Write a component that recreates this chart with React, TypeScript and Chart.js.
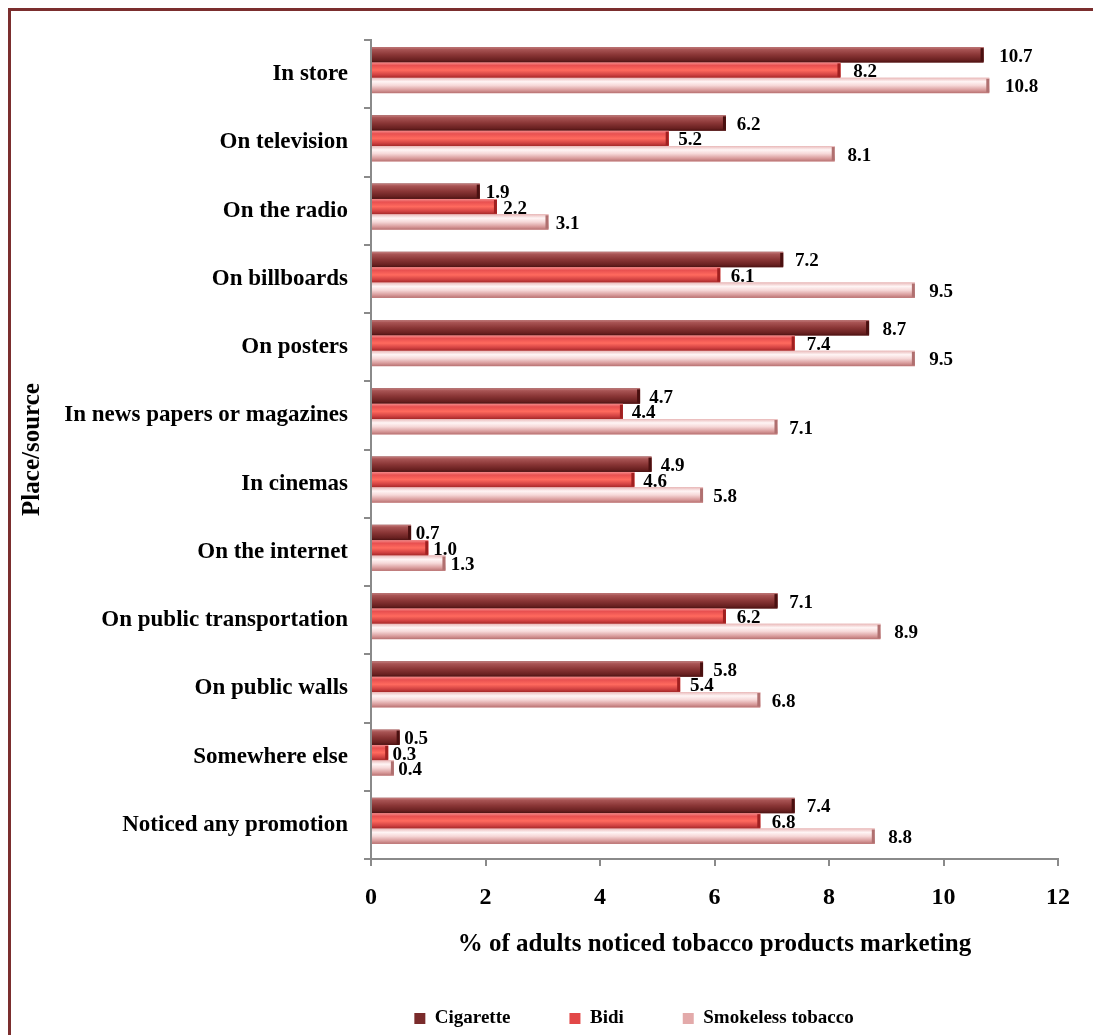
import React, { useEffect, useRef } from 'react';
import { Chart, registerables } from 'chart.js';

Chart.register(...registerables);

const categories = [
  'In store',
  'On television',
  'On the radio',
  'On billboards',
  'On posters',
  'In news papers or magazines',
  'In cinemas',
  'On the internet',
  'On public transportation',
  'On public walls',
  'Somewhere else',
  'Noticed any promotion',
];
const seriesNames = ['Cigarette', 'Bidi', 'Smokeless tobacco'];
const cigarette = [10.7, 6.2, 1.9, 7.2, 8.7, 4.7, 4.9, 0.7, 7.1, 5.8, 0.5, 7.4];
const bidi = [8.2, 5.2, 2.2, 6.1, 7.4, 4.4, 4.6, 1.0, 6.2, 5.4, 0.3, 6.8];
const smokeless = [10.8, 8.1, 3.1, 9.5, 9.5, 7.1, 5.8, 1.3, 8.9, 6.8, 0.4, 8.8];
const xMin = 0;
const xMax = 12;
const xStep = 2;
const xTitle = '% of adults noticed tobacco products marketing';
const yTitle = 'Place/source';

const FONT = "'Liberation Serif', 'Times New Roman', Times, serif";

const baseColors = ['#7a2b2b', '#e24848', '#e3aaaa'];
const capColors = ['#4a1010', '#a02020', '#b07070'];
const gradients: [number, string][][] = [
  [[0, '#c58080'], [0.15, '#a85454'], [0.5, '#8a3636'], [0.85, '#682020'], [1, '#4a1212']],
  [[0, '#f48a8a'], [0.2, '#e85050'], [0.5, '#ff6a5e'], [0.8, '#d24242'], [1, '#a42828']],
  [[0, '#e9b9b9'], [0.25, '#fff5f5'], [0.5, '#f6d8d8'], [0.8, '#d99c9c'], [1, '#b87272']],
];

export default function App() {
  const ref = useRef<HTMLCanvasElement>(null);

  useEffect(() => {
    const canvas = ref.current;
    if (!canvas) return;

    const bar3d = {
      id: 'bar3d',
      beforeDatasetsDraw(chart: any) {
        chart.ctx.save();
        chart.ctx.translate(0, -4);
      },
      afterDatasetsDraw(chart: any) {
        const ctx = chart.ctx as CanvasRenderingContext2D;
        chart.data.datasets.forEach((ds: any, di: number) => {
          const meta = chart.getDatasetMeta(di);
          meta.data.forEach((el: any) => {
            const { x, y, base, height } = el.getProps(['x', 'y', 'base', 'height'], true);
            const top = y - height / 2;
            const left = Math.min(x, base);
            const w = Math.abs(x - base);
            const g = ctx.createLinearGradient(0, top, 0, top + height);
            gradients[di].forEach(([o, c]) => g.addColorStop(o, c));
            ctx.fillStyle = g;
            ctx.fillRect(left, top, w, height);
            ctx.fillStyle = capColors[di];
            ctx.fillRect(Math.max(left, x - 3), top + 1, Math.min(3, w), height - 2);
          });
        });
        ctx.font = `bold 19px ${FONT}`;
        ctx.fillStyle = '#000';
        ctx.textAlign = 'left';
        ctx.textBaseline = 'middle';
        chart.data.datasets.forEach((ds: any, di: number) => {
          const meta = chart.getDatasetMeta(di);
          meta.data.forEach((el: any, i: number) => {
            const { x, y, base } = el.getProps(['x', 'y', 'base'], true);
            const v = ds.data[i] as number;
            const lx = x + 4 + 0.019 * (x - base);
            ctx.fillText(v.toFixed(1), lx, y + 2);
          });
        });
        ctx.restore();
      },
    };

    const yTickFont = { family: FONT, weight: 'bold' as const, size: 23 };
    const xTickFont = { family: FONT, weight: 'bold' as const, size: 24 };
    const titleFont = { family: FONT, weight: 'bold' as const, size: 25 };
    const axisGray = '#8a8a8a';

    const chart = new Chart(canvas, {
      type: 'bar',
      data: {
        labels: categories,
        datasets: [cigarette, bidi, smokeless].map((d, i) => ({
          label: seriesNames[i],
          data: d,
          backgroundColor: baseColors[i],
          borderWidth: 0,
          categoryPercentage: 0.674,
          barPercentage: 1.0,
        })),
      },
      options: {
        indexAxis: 'y',
        responsive: false,
        animation: false,
        devicePixelRatio: 1,
        layout: { padding: { left: 210, right: 35, top: 40, bottom: 0 } },
        scales: {
          x: {
            type: 'linear',
            min: xMin,
            max: xMax,
            ticks: { stepSize: xStep, font: xTickFont, color: '#000', padding: 17 },
            grid: { drawOnChartArea: false, drawTicks: true, tickLength: 7, color: axisGray, lineWidth: 2 },
            border: { display: true, color: axisGray, width: 2 },
            title: { display: true, text: xTitle, font: titleFont, color: '#000', padding: { top: 0, bottom: -10 } },
            afterFit: (s: any) => { s.height = 91; },
          },
          y: {
            type: 'category',
            ticks: { font: yTickFont, color: '#000', padding: 16, autoSkip: false },
            grid: { drawOnChartArea: false, drawTicks: true, tickLength: 7, color: axisGray, lineWidth: 2, offset: true },
            border: { display: true, color: axisGray, width: 2 },
            title: { display: true, text: yTitle, font: titleFont, color: '#000', padding: { top: -192, bottom: 0 } },
            afterFit: (s: any) => {
              s.width = 161;
              // let the long category labels extend into the layout padding
              s._computeLabelArea = () => null;
            },
          },
        },
        plugins: {
          legend: {
            display: true,
            position: 'bottom',
            labels: {
              boxWidth: 11,
              boxHeight: 11,
              padding: 59,
              color: '#000',
              font: { family: FONT, weight: 'bold', size: 19 },
            },
          },
          tooltip: { enabled: false },
        },
      },
      plugins: [bar3d],
    } as any);

    return () => chart.destroy();
  }, []);

  return (
    <div style={{ position: 'fixed', left: 0, top: 0, width: 1093, height: 1035, overflow: 'hidden', background: '#fff' }}>
      <canvas
        ref={ref}
        width={1093}
        height={1038}
        style={{ position: 'absolute', left: 0, top: 0, width: 1093, height: 1038 }}
      />
      <div
        style={{
          position: 'absolute',
          left: 8,
          top: 8,
          width: 1200,
          height: 1200,
          borderTop: '3px solid #7b2e2e',
          borderLeft: '3px solid #7b2e2e',
          pointerEvents: 'none',
        }}
      />
    </div>
  );
}
